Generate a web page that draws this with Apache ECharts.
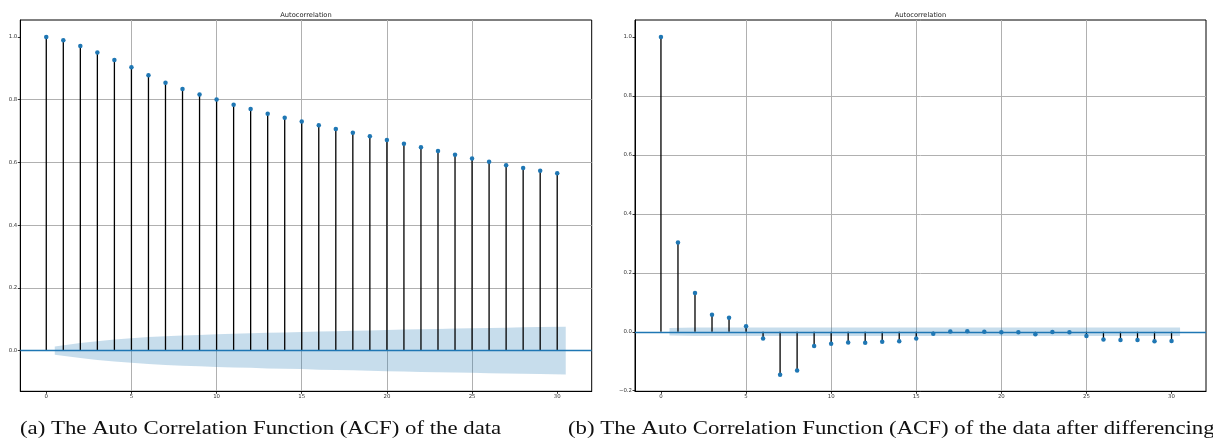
<!DOCTYPE html>
<html>
<head>
<meta charset="utf-8">
<script src="https://cdn.jsdelivr.net/npm/echarts@6/dist/echarts.min.js"></script>
<style>
html,body{margin:0;padding:0;background:#fff;}
#chart{width:1213px;height:448px;}
</style>
</head>
<body>
<div id="chart"></div>
<script>
// ---- data ----
const lags = [0,1,2,3,4,5,6,7,8,9,10,11,12,13,14,15,16,17,18,19,20,21,22,23,24,25,26,27,28,29,30];
const acfRaw = [1.0,0.989,0.971,0.950,0.926,0.903,0.878,0.854,0.834,0.816,0.800,0.784,0.770,0.755,0.742,0.730,0.718,0.706,0.694,0.683,0.671,0.659,0.648,0.636,0.624,0.612,0.602,0.591,0.582,0.573,0.565];
const acfDiff = [1.0,0.303,0.132,0.058,0.048,0.019,-0.023,-0.146,-0.131,-0.048,-0.041,-0.036,-0.037,-0.034,-0.032,-0.023,-0.007,0.001,0.002,0.000,-0.002,-0.002,-0.008,-0.001,-0.002,-0.014,-0.026,-0.028,-0.028,-0.032,-0.031];
// confidence band: x positions and half-widths (lags 1..30)
const bandX = [0.5,2,3,4,5,6,7,8,9,10,11,12,13,14,15,16,17,18,19,20,21,22,23,24,25,26,27,28,29,30.5];
const confRaw = [0.013,0.024,0.030,0.035,0.039,0.043,0.046,0.048,0.050,0.052,0.054,0.055,0.057,0.058,0.059,0.061,0.062,0.063,0.064,0.066,0.067,0.068,0.069,0.070,0.071,0.072,0.073,0.074,0.075,0.076];
const confDiff = [0.013,0.0142,0.0143,0.0143,0.0143,0.0143,0.0143,0.0144,0.0145,0.0145,0.0145,0.0145,0.0145,0.0145,0.0145,0.0145,0.0145,0.0145,0.0145,0.0145,0.0145,0.0145,0.0145,0.0145,0.0145,0.0145,0.0146,0.0146,0.0146,0.0146];
const xTicks = [0,5,10,15,20,25,30];
const yTicksA = [0,0.2,0.4,0.6,0.8,1.0];
const yTicksB = [-0.2,0,0.2,0.4,0.6,0.8,1.0];
const titleText = 'Autocorrelation';
const captionA = '(a) The Auto Correlation Function (ACF) of the data';
const captionB = '(b) The Auto Correlation Function (ACF) of the data after differencing';

// ---- styling ----
const C0 = '#1f77b4';
const gridColor = '#b0b0b0';
const tickFont = {fontSize: 5.4, color: '#333', fontFamily: 'DejaVu Sans'};
const fmt = v => (Math.round(v*10)/10).toFixed(1).replace('-', '\u2212');

const grids = [
  {left: 20.3, top: 20, width: 571.4, height: 371.3},
  {left: 635, top: 20, width: 571, height: 371.3}
];
const yRanges = [[-0.1298, 1.0538], [-0.202, 1.058]];
const yTickSets = [yTicksA, yTicksB];

function xAxisCfg(i){
  return {
    type: 'value', gridIndex: i, min: -1.525, max: 32.025, splitNumber: 5,
    axisLine: {show: true, onZero: false, lineStyle: {color: '#000', width: 1}},
    axisTick: {show: true, length: 2.5, lineStyle: {color: '#000', width: 0.8}, customValues: xTicks},
    axisLabel: {show: true, customValues: xTicks, margin: 3, formatter: v => String(Math.round(v)), ...tickFont},
    splitLine: {show: true, showMinLine: false, showMaxLine: false, lineStyle: {color: gridColor, width: 1}}
  };
}
function yAxisCfg(i){
  return {
    type: 'value', gridIndex: i, min: yRanges[i][0], max: yRanges[i][1], splitNumber: 6,
    axisLine: {show: true, onZero: false, lineStyle: {color: '#000', width: 1}},
    axisTick: {show: true, length: 2.5, lineStyle: {color: '#000', width: 0.8}, customValues: yTickSets[i]},
    axisLabel: {show: true, customValues: yTickSets[i], margin: 3, formatter: fmt, ...tickFont},
    splitLine: {show: true, showMinLine: false, showMaxLine: false, lineStyle: {color: gridColor, width: 1}}
  };
}

function bandSeries(i, conf){
  const data = bandX.map((x, k) => [x, conf[k]]);
  return {
    type: 'custom', xAxisIndex: i, yAxisIndex: i, data: data, silent: true, z: 1,
    renderItem: function (params, api) {
      if (params.dataIndex !== 0) return null;
      const upper = data.map(d => api.coord([d[0], d[1]]));
      const lower = data.map(d => api.coord([d[0], -d[1]])).reverse();
      return {type: 'polygon', shape: {points: upper.concat(lower)},
              style: {fill: 'rgba(31,119,180,0.25)', stroke: 'none'}};
    }
  };
}

function seriesFor(i, acf, conf){
  return [
    bandSeries(i, conf),
    {type: 'bar', xAxisIndex: i, yAxisIndex: i, data: lags.map((l, k) => [l, acf[k]]),
     barWidth: 1.3, itemStyle: {color: '#000'}, silent: true, z: 3},
    {type: 'scatter', xAxisIndex: i, yAxisIndex: i, data: lags.map((l, k) => [l, acf[k]]),
     symbol: 'circle', symbolSize: 4.5, itemStyle: {color: C0, opacity: 1}, silent: true, z: 5,
     markLine: {silent: true, symbol: ['none', 'none'], label: {show: false},
       lineStyle: {color: C0, width: 1.3, type: 'solid'}, data: [{yAxis: 0}], animation: false}}
  ];
}

const chart = echarts.init(document.getElementById('chart'), null, {renderer: 'canvas'});
chart.setOption({
  animation: false,
  backgroundColor: '#fff',
  grid: grids.map(g => ({...g, show: true, borderColor: '#000', borderWidth: 1, backgroundColor: 'transparent'})),
  xAxis: [xAxisCfg(0), xAxisCfg(1)],
  yAxis: [yAxisCfg(0), yAxisCfg(1)],
  series: [...seriesFor(0, acfRaw, confRaw), ...seriesFor(1, acfDiff, confDiff)],
  graphic: [
    {type: 'text', x: 306, y: 15, style: {text: titleText, fill: '#222', font: '6.7px "DejaVu Sans"', textAlign: 'center', textVerticalAlign: 'middle'}},
    {type: 'text', x: 920.5, y: 15, style: {text: titleText, fill: '#222', font: '6.7px "DejaVu Sans"', textAlign: 'center', textVerticalAlign: 'middle'}},
    {type: 'text', x: 20, y: 429, scaleX: 1.2, style: {text: captionA, fill: '#111', font: '19px "Liberation Serif"', textAlign: 'left', textVerticalAlign: 'middle'}},
    {type: 'text', x: 568, y: 429, scaleX: 1.2, style: {text: captionB, fill: '#111', font: '19px "Liberation Serif"', textAlign: 'left', textVerticalAlign: 'middle'}}
  ]
});
</script>
</body>
</html>
